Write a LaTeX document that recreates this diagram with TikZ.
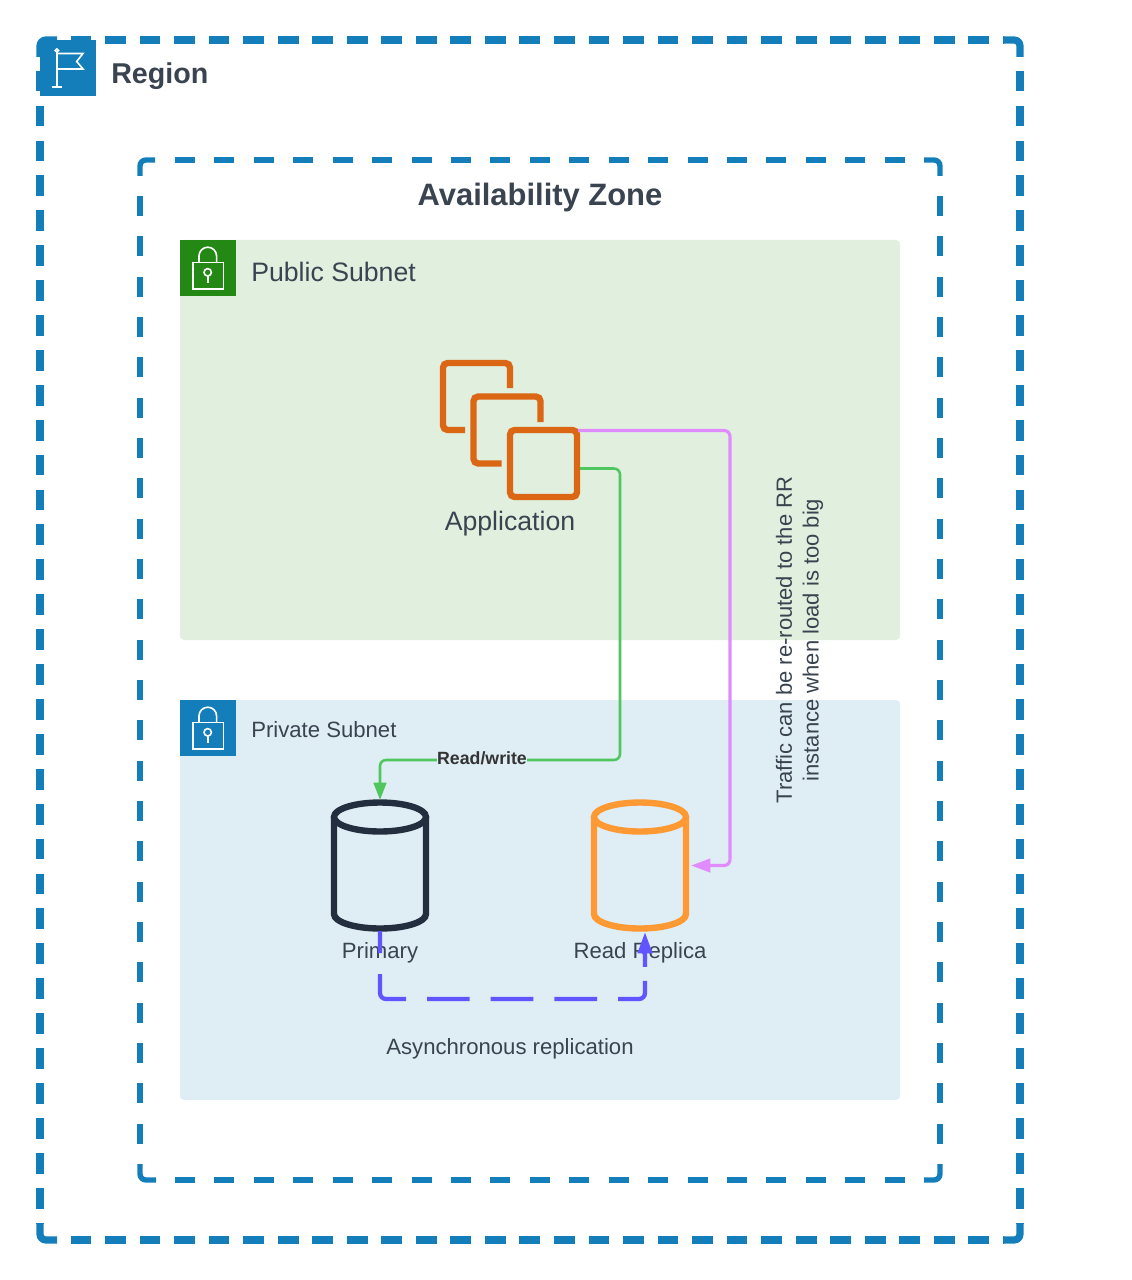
\documentclass[tikz,border=0pt]{standalone}
\usepackage{fontspec}
\setmainfont{Liberation Sans}
\usetikzlibrary{positioning,arrows.meta}

\definecolor{awsblue}{HTML}{147EBA}
\definecolor{awsgreen}{HTML}{248814}
\definecolor{pubfill}{HTML}{E1EFDF}
\definecolor{privfill}{HTML}{DFEDF5}
\definecolor{inkgrey}{HTML}{3A4350}
\definecolor{appline}{HTML}{DB6613}
\definecolor{dbnavy}{HTML}{232F3E}
\definecolor{dborange}{HTML}{FF9933}
\definecolor{rwgreen}{HTML}{50C75E}
\definecolor{rrpink}{HTML}{E08CFF}
\definecolor{syncblue}{HTML}{6155FF}

\tikzset{
  regionline/.style={draw=awsblue, line width=5.4pt, rounded corners=4.5pt},
  zoneline/.style={draw=awsblue, line width=4pt, rounded corners=4.5pt},
  regionh/.style={regionline, dash pattern=on 15.6pt off 10.3pt},
  regionv/.style={regionline, dash pattern=on 15.6pt off 10.58pt},
  zoneh/.style={zoneline, dash pattern=on 15pt off 14.57pt},
  zonev/.style={zoneline, dash pattern=on 15pt off 15.25pt},
  subnetbox/.style={rounded corners=3pt, line width=0pt},
  iconbox/.style={minimum size=42pt, inner sep=0pt, anchor=north west},
  appsquare/.style={draw=appline, line width=4.8pt, rounded corners=3.5pt},
  dbslot/.style={minimum width=73.5pt, minimum height=98.25pt, inner sep=0pt, outer sep=0pt},
  lbl/.style={text=inkgrey, inner sep=0pt},
  conn/.style={rounded corners=4.5pt},
  iconline/.style={white, line width=1.2pt},
  lockicon/.pic={
    \draw[iconline] (12.7,22.3) rectangle (43.3,48.7);
    \draw[iconline] (19,22.3) -- (19,16) arc[start angle=180, end angle=0, x radius=8.8, y radius=-8.8] -- (36.7,22.3);
    \draw[iconline] (27.7,32.3) circle[radius=3.7];
    \draw[iconline] (27.7,36) -- (27.7,43.3);
  },
  dbdrum/.pic={
    \draw[pic actions, line width=4.8pt] (0,-48.5) ellipse[x radius=46, y radius=14.5];
    \draw[pic actions, line width=4.8pt] (46,-48.5) -- (46,48.5) arc[start angle=0, end angle=180, x radius=46, y radius=14.5] -- (-46,-48.5);
  },
}

\begin{document}
\begin{tikzpicture}[x=0.75pt, y=-0.75pt]
  \useasboundingbox (0,0) rectangle (1131,1280);

  % region frame
  \draw[regionline] (40,57) -- (40,40) -- (57,40);
  \draw[regionline] (1003,40) -- (1020,40) -- (1020,57);
  \draw[regionline] (40,1223) -- (40,1240) -- (57,1240);
  \draw[regionline] (1003,1240) -- (1020,1240) -- (1020,1223);
  \draw[regionh] (70.5,40) -- (1003,40);
  \draw[regionh] (70.5,1240) -- (1003,1240);
  \draw[regionv] (40,70.7) -- (40,1223);
  \draw[regionv] (1020,70.7) -- (1020,1223);

  % zone frame
  \draw[zoneline] (140,176) -- (140,160) -- (155,160);
  \draw[zoneline] (924,160) -- (940,160) -- (940,176);
  \draw[zoneline] (140,1164) -- (140,1180) -- (156,1180);
  \draw[zoneline] (924,1180) -- (940,1180) -- (940,1164);
  \draw[zoneh] (175,160) -- (924,160);
  \draw[zoneh] (175,1180) -- (924,1180);
  \draw[zonev] (140,196) -- (140,1164);
  \draw[zonev] (940,196) -- (940,1164);

  \fill[pubfill, subnetbox] (180,240) rectangle (900,640);
  \fill[privfill, subnetbox] (180,700) rectangle (900,1100);

  % icons
  \node (regionIcon) [iconbox, fill=awsblue] at (40,40) {};
  \draw[iconline] (51.5,87) -- (62,87);
  \draw[iconline] (56.8,87) -- (56.8,52);
  \draw[iconline] (56.8,50.5) circle[radius=1.6];
  \draw[iconline] (56.8,53.5) -- (83,53.5) -- (76.7,61.5) -- (83,69) -- (56.8,69);

  \node (pubIcon) [iconbox, fill=awsgreen] at (180,240) {};
  \pic at (180,240) {lockicon};
  \node (privIcon) [iconbox, fill=awsblue] at (180,700) {};
  \pic at (180,700) {lockicon};

  % labels of the boxes
  \node (regionLabel) [lbl, anchor=west, font=\bfseries\fontsize{21.5}{24}\selectfont] at (111,76) {Region};
  \node (zoneLabel) [lbl, font=\bfseries\fontsize{23.2}{26}\selectfont] at (540,198) {Availability Zone};
  \node (pubLabel) [lbl, anchor=west, font=\fontsize{20}{24}\selectfont] at (251,272) {Public Subnet};
  \node (privLabel) [lbl, anchor=west, font=\fontsize{16.6}{20}\selectfont] at (251,730) {Private Subnet};

  % application
  \draw[appsquare] (510,388) -- (510,363) -- (443,363) -- (443,430) -- (465,430);
  \draw[appsquare] (540.5,422) -- (540.5,396.5) -- (473.5,396.5) -- (473.5,463.5) -- (501.5,463.5);
  \node (appFront) [draw=appline, line width=4.8pt, rounded corners=3.5pt, minimum size=50.25pt, inner sep=0pt] at (543.5,463.5) {};
  \node (appLabel) [lbl, font=\fontsize{20}{24}\selectfont] at (510,524) {Application};

  % databases
  \node (primaryDb) [dbslot] at (380,865.5) {};
  \node (replicaDb) [dbslot] at (640,865.5) {};
  \pic[draw=dbnavy] at (primaryDb) {dbdrum};
  \pic[draw=dborange] at (replicaDb) {dbdrum};
  \node (primaryLabel) [lbl, font=\fontsize{16.6}{20}\selectfont] at (380,953) {Primary};
  \node (replicaLabel) [lbl, font=\fontsize{16.6}{20}\selectfont] at (640,953) {Read Replica};
  \node (asyncLabel) [lbl, font=\fontsize{16.6}{20}\selectfont] at (510,1049) {Asynchronous replication};
  \node (rerouteNote) [lbl, rotate=90, align=center, font=\fontsize{16.5}{20}\selectfont] at (799.5,640) {Traffic can be re-routed to the RR\\instance when load is too big};

  % connectors
  \coordinate (rwStart) at (580,468.5);
  \coordinate (rrStart) at (578,430.5);
  \draw[conn, rwgreen, line width=1.9pt, -{Triangle[length=13pt,width=9.5pt]}] (rwStart) -- (620,468.5) -- (620,760) -- (380,760) -- (primaryDb.north);
  \node (rwLabel) [fill=privfill, inner sep=0pt, text=black!80, font=\bfseries\fontsize{13.3}{16}\selectfont] at (482,758) {Read/write};
  \draw[conn, rrpink, line width=2.4pt, -{Triangle[length=14.5pt,width=10pt]}] (rrStart) -- (730,430.5) -- (730,865.5) -- (691,865.5);
  \draw[conn, syncblue, line width=3.2pt, dash pattern=on 16.5pt off 15.75pt on 36.3pt off 15.75pt on 32pt off 15.75pt on 32pt off 15.75pt on 32pt off 15.75pt on 31.8pt off 10.5pt on 40pt off 10pt, -{Triangle[length=16pt,width=10.5pt]}] (primaryDb.south) -- (380,999) -- (645,999) -- (645,932);
\end{tikzpicture}
\end{document}
